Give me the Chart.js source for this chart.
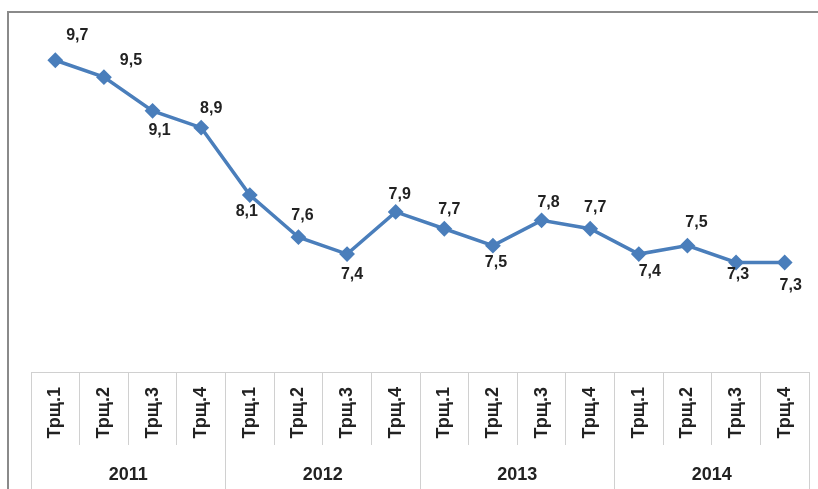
<!DOCTYPE html>
<html lang="bg">
<head>
  <meta charset="UTF-8" />
  <title>Трщ. данни 2011-2014</title>
  <script src="https://cdn.jsdelivr.net/npm/chart.js"></script>
  <style>
    body { margin: 0; background: #fff; }
    #wrap {
      position: absolute; left: 7px; top: 11px;
      width: 809px; height: 476px;
      border-left: 2px solid #8a8a8a; border-top: 2px solid #8a8a8a;
    }
  </style>
</head>
<body>
  <div id="wrap"><canvas id="lineChart" width="809" height="476"></canvas></div>

  <script>
    const quarters = ['Трщ.1', 'Трщ.2', 'Трщ.3', 'Трщ.4',
                      'Трщ.1', 'Трщ.2', 'Трщ.3', 'Трщ.4',
                      'Трщ.1', 'Трщ.2', 'Трщ.3', 'Трщ.4',
                      'Трщ.1', 'Трщ.2', 'Трщ.3', 'Трщ.4'];
    const years = ['2011', '2012', '2013', '2014'];
    const values = [9.7, 9.5, 9.1, 8.9, 8.1, 7.6, 7.4, 7.9, 7.7, 7.5, 7.8, 7.7, 7.4, 7.5, 7.3, 7.3];

    // where each value label sits relative to its point (px)
    const labelDx = [22, 27, 7, 10, -3, 4, 5, 4, 5, 3, 7, 5, 11, 9, 2, 6];
    const labelDy = [-25, -17, 20, -19, 17, -22, 21, -17, -19, 17, -18, -21, 18, -23, 12, 23];

    const blue = '#4a7ebb';

    // value labels next to the points, Excel style
    const valueLabels = {
      id: 'valueLabels',
      afterDatasetsDraw(chart) {
        const ctx = chart.ctx;
        const meta = chart.getDatasetMeta(0);
        ctx.save();
        ctx.font = 'bold 16px "Liberation Sans", Arial, sans-serif';
        ctx.fillStyle = '#222';
        ctx.textAlign = 'center';
        ctx.textBaseline = 'middle';
        meta.data.forEach((pt, i) => {
          const txt = values[i].toFixed(1).replace('.', ',');
          ctx.fillText(txt, pt.x + labelDx[i], pt.y + labelDy[i]);
        });
        ctx.restore();
      }
    };

    const ctx = document.getElementById('lineChart').getContext('2d');
    new Chart(ctx, {
      type: 'line',
      data: {
        labels: quarters,
        datasets: [{
          data: values,
          borderColor: blue,
          backgroundColor: blue,
          borderWidth: 3.5,
          tension: 0,
          pointStyle: 'rectRot',
          pointRadius: 6.5,
          pointBorderWidth: 2,
          pointBackgroundColor: blue,
          pointBorderColor: blue
        }]
      },
      options: {
        responsive: false,
        animation: false,
        layout: { padding: { left: 22, right: 9, top: 22, bottom: 0 } },
        plugins: {
          legend: { display: false },
          tooltip: { enabled: false }
        },
        scales: {
          y: { display: false, min: 6, max: 10 },
          x: {
            weight: 0,
            offset: true,
            grid: { offset: true, drawOnChartArea: false, tickLength: 73, color: '#d0d0d0', tickColor: '#d0d0d0' },
            border: { display: true, color: '#d0d0d0' },
            ticks: {
              autoSkip: false, minRotation: 90, maxRotation: 90,
              padding: -58,
              color: '#222',
              font: { family: '"Liberation Sans", Arial, sans-serif', size: 18, weight: 'bold' }
            },
            afterFit: s => { s.height = 73; }
          },
          x2: {
            type: 'category',
            position: 'bottom',
            weight: 1,
            labels: years,
            offset: true,
            grid: { offset: true, drawOnChartArea: false, tickLength: 44, color: '#d0d0d0', tickColor: '#d0d0d0' },
            border: { display: false },
            ticks: {
              padding: -25,
              color: '#222',
              font: { family: '"Liberation Sans", Arial, sans-serif', size: 18, weight: 'bold' }
            },
            afterFit: s => { s.height = 44; }
          }
        }
      },
      plugins: [valueLabels]
    });
  </script>
</body>
</html>
